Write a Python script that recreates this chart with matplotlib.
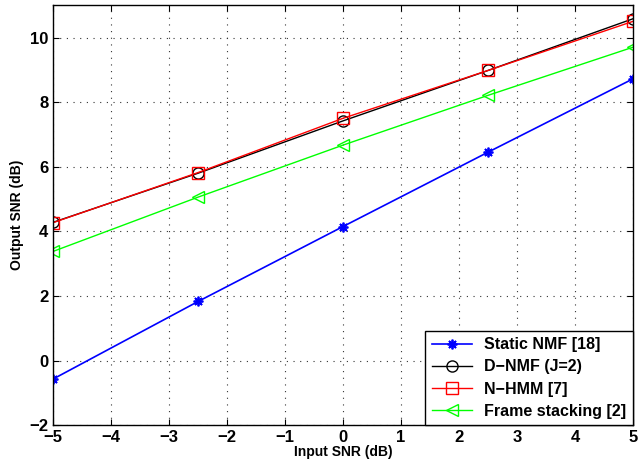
import matplotlib
matplotlib.use("Agg")
import matplotlib.pyplot as plt

input_snr = [-5, -2.5, 0, 2.5, 5]
static_nmf = [-0.57, 1.83, 4.15, 6.45, 8.72]
d_nmf = [4.28, 5.80, 7.42, 8.98, 10.58]
n_hmm = [4.27, 5.82, 7.50, 8.98, 10.50]
frame_stacking = [3.38, 5.06, 6.67, 8.21, 9.70]

xticks = [-5, -4, -3, -2, -1, 0, 1, 2, 3, 4, 5]
yticks = [-2, 0, 2, 4, 6, 8, 10]

plt.rcParams['font.family'] = ['Liberation Sans', 'DejaVu Sans']
plt.rcParams['font.weight'] = 'bold'

fig = plt.figure(figsize=(6.4, 4.73), dpi=100)
ax = fig.add_axes([0.083, 0.101, 0.906, 0.888])

ax.plot(input_snr, static_nmf, color='#0000ff', marker=(8, 2, 0), markersize=7,
        markeredgewidth=1.3, linewidth=1.2, label='Static NMF [18]')
ax.plot(input_snr, d_nmf, color='black', marker='o', markersize=8,
        markerfacecolor='none', linewidth=1.0, label='D\u2212NMF (J=2)')
ax.plot(input_snr, n_hmm, color='#ff0000', marker='s', markersize=8,
        markerfacecolor='none', linewidth=1.0, label='N\u2212HMM [7]')
ax.plot(input_snr, frame_stacking, color='#00ff00', marker='<', markersize=9,
        markerfacecolor='none', linewidth=1.0, label='Frame stacking [2]')

ax.set_xlim(-5, 5)
ax.set_ylim(-2, 11)
ax.set_xticks(xticks)
ax.set_yticks(yticks)
ax.set_xticklabels([str(t).replace('-', '\u2212') for t in xticks])
ax.set_yticklabels([str(t).replace('-', '\u2212') for t in yticks])
ax.tick_params(direction='in', labelsize=12, length=4, top=True, right=True)
ax.grid(True, linestyle=(0, (1, 5)), color='#333333', linewidth=0.8)
for s in ax.spines.values():
    s.set_linewidth(1.0)

ax.set_xlabel('Input SNR (dB)', fontsize=10, fontweight='bold', labelpad=0)
ax.set_ylabel('Output SNR (dB)', fontsize=10, fontweight='bold', labelpad=4)

leg = ax.legend(loc='lower right', fontsize=11.5, fancybox=False, framealpha=1,
                edgecolor='black', borderaxespad=0, handlelength=2.5,
                labelspacing=0.45)
leg.get_frame().set_linewidth(1.0)

fig.savefig('out.png', dpi=100)
